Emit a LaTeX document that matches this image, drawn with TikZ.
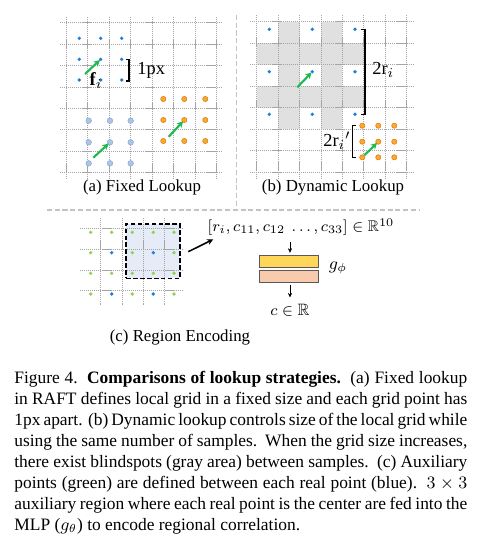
\documentclass[tikz,border=0pt]{standalone}
\usepackage{amsmath,amssymb}
\usepackage{fontspec}
\setmainfont{Liberation Serif}
\usetikzlibrary{arrows.meta}
\definecolor{dotblue}{RGB}{28,125,220}
\definecolor{ltblue}{RGB}{172,196,230}
\definecolor{ltbluedraw}{RGB}{140,168,212}
\definecolor{dotorange}{RGB}{247,172,40}
\definecolor{orangedraw}{RGB}{232,122,30}
\definecolor{arrgreen}{RGB}{30,185,80}
\definecolor{dotgreen}{RGB}{146,208,80}
\definecolor{blindgray}{RGB}{224,224,224}
\definecolor{gridgray}{RGB}{165,165,165}
\definecolor{regionfill}{RGB}{229,236,248}
\definecolor{mlpyellow}{RGB}{255,214,90}
\definecolor{mlppink}{RGB}{248,203,173}
\definecolor{sepgray}{RGB}{195,195,195}
\tikzset{
  gridline/.style={draw=gridgray, line width=0.45pt, dash pattern=on 0.6pt off 0.45pt},
  bdot/.style={circle, fill=dotblue, inner sep=0pt, minimum size=1.9pt},
  lbdot/.style={circle, fill=ltblue, draw=ltbluedraw, line width=0.25pt, inner sep=0pt, minimum size=2.9pt},
  odot/.style={circle, fill=dotorange, draw=orangedraw, line width=0.3pt, inner sep=0pt, minimum size=2.7pt},
  gdot/.style={circle, fill=dotgreen, inner sep=0pt, minimum size=1.9pt},
  garrow/.style={draw=arrgreen, line width=1.1pt, -{Stealth[length=3.2pt,width=3.4pt]}, shorten >=-0.6pt},
  brack/.style={draw=black, line width=0.55pt},
  lbl/.style={font=\fontsize{8.7}{10}\selectfont, inner sep=0pt},
  sepline/.style={draw=sepgray, line width=0.8pt, dash pattern=on 2.6pt off 1.4pt},
  mlpbox/.style={draw=black!65, line width=0.55pt, minimum width=30.5pt, minimum height=6.3pt, inner sep=0pt},
  darrow/.style={draw=black, line width=0.5pt, -{Stealth[length=2.4pt,width=2.2pt]}},
  karrow/.style={draw=black, line width=0.8pt, -{Stealth[length=3.2pt,width=3pt]}}
}
\begin{document}
\begin{tikzpicture}[x=0.5166pt,y=-0.5166pt]
\useasboundingbox (0,0) rectangle (480,543);
\fill[white] (0,0) rectangle (480,543);

% ---------- (a) Fixed lookup ----------
\foreach \k in {0,...,7} {
  \draw[gridline] (60,{22.7+21.43*\k}) -- (222,{22.7+21.43*\k});
  \draw[gridline] ({66+21.5*\k},17) -- ({66+21.5*\k},178);
}
\foreach \x [count=\i] in {79.3,100.7,121.7}
  \foreach \y [count=\j] in {38.3,59.3,80}
    \node[bdot] (ab\i\j) at (\x,\y) {};
\foreach \x [count=\i] in {88.7,110,130.7}
  \foreach \y [count=\j] in {120.7,142.3,163.3}
    \node[lbdot] (al\i\j) at (\x,\y) {};
\foreach \x [count=\i] in {163.3,184.3,205.3}
  \foreach \y [count=\j] in {99,120,141}
    \node[odot] (ao\i\j) at (\x,\y) {};
\coordinate (fa1) at (85,74);
\coordinate (fa2) at (93.3,157.7);
\coordinate (fa3) at (168.7,136.7);
\draw[garrow] (fa1) -- (ab22);
\draw[garrow] (fa2) -- (al22);
\draw[garrow] (fa3) -- (ao22);
\node[lbl, font=\fontsize{9.5}{10}\selectfont] (fi) at (96,81) {$\mathbf{f}_i$};
\coordinate (b1t) at (129,59.3);
\coordinate (b1b) at (129,81);
\draw[brack] ([xshift=-1.6pt]b1t) -- (b1t) -- (b1b) -- ([xshift=-1.6pt]b1b);
\node[lbl, font=\fontsize{9.5}{10}\selectfont, anchor=west] (onepx) at (137,70) {1px};
\node[lbl] (capa) at (142,187) {(a) Fixed Lookup};

% ---------- (b) Dynamic lookup ----------
\foreach \c in {0,...,4}
  \foreach \r in {0,...,4} {
    \pgfmathparse{int(mod(\c,2)+mod(\r,2))}
    \ifnum\pgfmathresult>0
      \fill[blindgray] ({256.7+21.43*\c},{21.7+21.5*\r}) rectangle ({256.7+21.43*(\c+1)},{21.7+21.5*(\r+1)});
    \fi
  }
\foreach \k in {0,...,7} {
  \draw[gridline] (250,{21.7+21.5*\k}) -- (413,{21.7+21.5*\k});
  \draw[gridline] ({256.7+21.43*\k},15) -- ({256.7+21.43*\k},178);
}
\foreach \x [count=\i] in {269.3,312.3,355}
  \foreach \y [count=\j] in {29.3,71.7,114.3}
    \node[bdot] (bb\i\j) at (\x,\y) {};
\foreach \x [count=\i] in {362.3,378.3,394.3}
  \foreach \y [count=\j] in {125.7,141.7,157.3}
    \node[odot] (bo\i\j) at (\x,\y) {};
\coordinate (fb1) at (297.3,87.3);
\draw[garrow] (fb1) -- (bb22);
\draw[garrow] (bo13) -- (bo22);
\coordinate (b2t) at (365,29.3);
\coordinate (b2b) at (365,114.3);
\draw[brack] ([xshift=-2pt]b2t) -- (b2t) -- (b2b) -- ([xshift=-2pt]b2b);
\node[lbl, font=\fontsize{9.5}{10}\selectfont, anchor=west] (tworb) at (372,70) {2r$_i$};
\coordinate (b3t) at (352.7,125.7);
\coordinate (b3b) at (352.7,157.3);
\draw[brack] ([xshift=1.8pt]b3t) -- (b3t) -- (b3b) -- ([xshift=1.8pt]b3b);
\node[lbl, font=\fontsize{9.5}{10}\selectfont, anchor=east] (tworp) at (351,141) {2r$_i{}'$};
\node[lbl] (capb) at (333,187) {(b) Dynamic Lookup};

% ---------- separators ----------
\coordinate (sl) at (47,210);
\coordinate (sr) at (420,210);
\coordinate (st) at (236.7,15);
\coordinate (sb) at (236.7,210);
\draw[sepline] (sl) -- (sr);
\draw[sepline] (st) -- (sb);

% ---------- (c) Region encoding ----------
\node[draw=none, fill=regionfill, inner sep=0pt, minimum width=27.9pt, minimum height=28.2pt] (regfill) at (153,251.2) {};
\foreach \y in {228,249,270,290.5}
  \draw[gridline] (80,\y) -- (183,\y);
\foreach \x in {100.7,122,143.3,164.5}
  \draw[gridline] (\x,218) -- (\x,305);
\foreach \x [count=\i] in {90.7,111.7,132.3,153.3,174}
  \foreach \y [count=\j] in {232.3,252.7,273.3,294} {
    \pgfmathparse{int(mod(\i,2)+mod(\j,2))}
    \ifnum\pgfmathresult=0
      \node[bdot] (cd\i\j) at (\x,\y) {};
    \else
      \node[gdot] (cd\i\j) at (\x,\y) {};
    \fi
  }
\node[draw=black, line width=0.85pt, dash pattern=on 2.4pt off 1.2pt, inner sep=0pt, minimum width=27.9pt, minimum height=28.2pt] (region) at (153,251.2) {};
\node[lbl, font=\fontsize{8}{10}\selectfont] (vec) at (301,227) {$[r_i, c_{11}, c_{12}\ \ldots, c_{33}] \in \mathbb{R}^{10}$};
\coordinate (ra) at (188.3,251.7);
\coordinate (rb) at (213.3,239.3);
\draw[karrow] (ra) -- (rb);
\node[mlpbox, fill=mlpyellow] (m1) at (288.8,261.2) {};
\node[mlpbox, fill=mlppink] (m2) at (288.8,276.2) {};
\coordinate (d1s) at (290,241.7);
\coordinate (d1e) at (290,252.8);
\draw[darrow] (d1s) -- (d1e);
\node[lbl, font=\fontsize{8.5}{10}\selectfont] (cout) at (290,310) {$c \in \mathbb{R}$};
\coordinate (d2s) at (290,284.5);
\coordinate (d2e) at (290,297.5);
\draw[darrow] (d2s) -- (d2e);
\node[lbl, font=\fontsize{9}{10}\selectfont] (gphi) at (338,268) {$g_\phi$};
\node[lbl] (capc) at (180,337) {(c) Region Encoding};

% ---------- caption ----------
\node[anchor=north west, inner sep=0pt, text width=234pt, align=justify,
      font=\fontsize{9}{10.85}\selectfont] (caption) at (14,371) {%
Figure 4.\ \ \textbf{Comparisons of lookup strategies.}\ \ (a) Fixed lookup\linebreak
in RAFT defines local grid in a fixed size and each grid point has\linebreak
1px apart. (b) Dynamic lookup controls size of the local grid while\linebreak
using the same number of samples.\ \ When the grid size increases,\linebreak
there exist blindspots (gray area) between samples.\ \ (c) Auxiliary\linebreak
points (green) are defined between each real point (blue).\ \ $3\times3$\linebreak
auxiliary region where each real point is the center are fed into the\linebreak
MLP ($g_\theta$) to encode regional correlation.};
\end{tikzpicture}
\end{document}
